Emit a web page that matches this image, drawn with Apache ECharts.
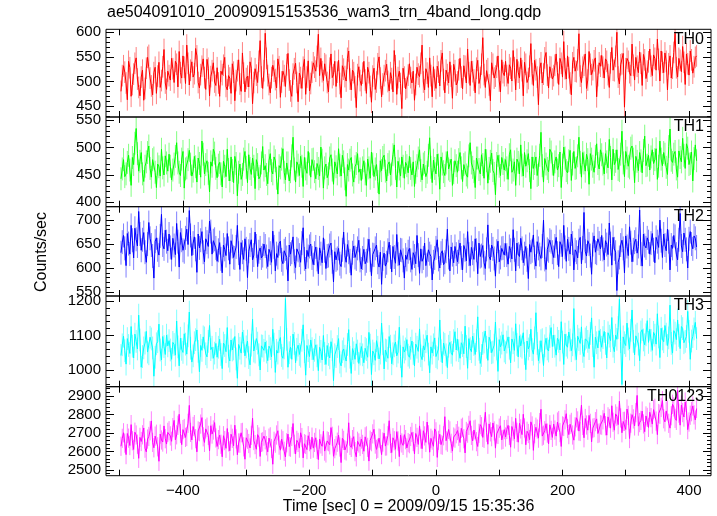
<!DOCTYPE html>
<html><head><meta charset="utf-8">
<script src="https://cdn.jsdelivr.net/npm/echarts@6/dist/echarts.min.js"></script>
<style>html,body{margin:0;padding:0;background:#fff}#c{width:717px;height:516px}</style>
</head><body><div id="c"></div>
<script>
const chartTitle = 'ae504091010_20090915153536_wam3_trn_4band_long.qdp';
const xTitle = 'Time [sec] 0 = 2009/09/15 15:35:36';
const yTitle = 'Counts/sec';
const bandNames = ['TH0', 'TH1', 'TH2', 'TH3', 'TH0123'];
const bandColors = ['#ff0000', '#00ff00', '#0000ff', '#00ffff', '#ff00ff'];
const errorColors = ['#ff8080', '#80ff80', '#7f7fff', '#80ffff', '#ff80ff'];
const binStart = -498;
const binSize = 2;
// typical 1-sigma error bar half-length per band (counts/sec)
const bandErrors = [22, 21, 25, 33, 52];

const TH0 = [
480,512,532,519,497,463,541,528,470,494,515,537,548,505,488,471,509,523,462,486,527,549,553,507,491,473,518,529,476,511,539,488,502,530,565,497,484,521,
512,503,547,526,498,541,535,489,561,518,507,552,529,496,574,537,493,523,540,509,516,567,552,498,487,514,531,546,508,484,545,527,471,510,522,538,499,492,
528,497,470,521,514,533,549,490,483,512,507,476,536,519,461,502,522,544,495,480,558,517,479,506,511,489,540,527,455,498,526,513,498,541,583,509,486,522,
598,547,512,494,477,508,533,521,504,487,546,530,468,499,521,512,490,534,557,503,481,470,515,526,537,498,459,517,508,486,529,545,474,509,542,481,496,519,
538,529,521,551,596,512,547,520,502,536,533,498,479,527,556,508,514,541,490,519,543,496,467,532,525,510,501,547,562,505,483,523,518,489,447,514,530,502,
492,517,541,503,476,529,518,490,458,511,527,484,499,536,550,507,469,495,512,522,535,500,481,518,506,479,563,532,474,508,521,496,445,527,509,485,488,513,
536,508,497,521,462,494,529,515,510,537,574,499,483,526,517,488,548,512,469,530,503,486,531,519,491,542,558,504,477,523,514,497,540,511,466,535,522,493,
499,524,547,509,485,532,531,497,566,518,492,541,520,503,477,527,543,496,508,535,589,514,488,522,526,493,461,538,535,507,511,529,552,501,479,544,518,512,
541,512,496,534,527,501,563,528,483,545,519,507,548,522,471,539,535,498,506,531,577,516,492,543,524,509,453,526,538,497,515,548,559,513,487,530,529,505,
512,533,556,518,494,547,537,509,581,526,505,552,528,497,473,538,549,521,520,544,597,511,498,529,533,556,486,503,561,535,514,524,542,548,469,512,538,531,
553,529,507,546,541,514,488,538,569,523,522,551,600,509,495,534,536,557,448,526,547,541,518,512,576,533,503,549,531,518,560,537,492,555,544,506,521,540,
566,531,512,554,547,523,586,545,501,562,539,518,558,541,483,536,552,507,527,559,598,528,509,547,543,520,571,539,494,556,536,513,562,544,517,530,549,552];

const TH1 = [
443,461,478,447,452,473,486,459,431,482,469,508,535,489,457,475,491,452,438,466,474,491,503,462,446,478,481,455,427,470,465,448,497,463,450,485,472,457,
488,466,441,459,470,484,509,472,455,449,479,493,426,461,463,478,495,470,448,457,484,465,437,481,471,446,512,488,452,469,476,453,419,474,466,497,490,462,
445,468,473,452,428,475,466,447,497,460,439,483,458,436,484,471,412,455,470,442,451,479,493,464,436,487,462,451,481,466,425,478,469,443,447,472,502,459,
467,451,434,476,489,458,452,483,476,444,415,467,463,479,498,455,441,472,472,439,456,485,519,461,437,474,468,449,484,466,429,482,461,453,493,470,446,478,
479,456,443,471,462,448,501,477,426,463,470,445,452,481,487,459,433,474,465,452,498,468,448,486,474,443,411,469,459,477,482,450,437,465,471,489,455,461,
440,463,476,452,431,479,463,444,492,470,447,461,469,438,415,476,458,482,486,457,439,469,474,450,452,487,505,462,428,475,461,448,483,466,444,473,467,454,
484,462,450,474,429,455,467,481,496,458,441,470,473,447,455,486,518,464,436,477,462,452,488,468,424,483,470,456,449,472,493,461,458,479,431,454,476,467,
455,478,491,463,438,469,472,450,446,485,509,472,464,456,427,481,481,460,452,487,469,444,497,476,435,462,475,490,458,453,414,471,486,466,449,482,471,459,
478,463,442,487,496,455,459,474,431,479,473,452,505,468,448,491,466,476,489,458,425,483,462,471,483,449,451,486,528,467,437,480,470,462,456,497,492,470,
449,474,483,459,467,492,427,468,501,481,458,454,476,495,440,470,493,462,463,485,519,473,446,491,472,457,488,478,433,489,479,466,455,484,507,471,461,496,
487,470,452,489,474,463,515,482,441,497,469,475,496,460,458,488,530,472,447,493,481,466,463,499,503,479,436,484,475,458,491,476,454,495,521,467,468,486,
459,483,496,471,478,498,442,466,512,479,467,491,488,464,451,502,534,477,473,488,493,461,446,494,482,474,517,486,462,507,499,469,471,492,439,480,505,476];

const TH2 = [
632,654,668,641,605,672,651,629,689,658,621,683,660,646,718,671,637,659,674,633,612,650,695,662,648,625,579,656,663,638,627,667,712,648,640,679,655,636,
671,643,618,662,647,628,693,655,602,674,658,637,634,663,681,649,720,668,626,652,665,639,591,671,642,658,676,633,613,661,654,645,698,676,629,657,660,642,
614,637,653,619,590,648,639,626,672,641,608,657,645,622,621,644,689,631,597,653,633,618,661,640,580,635,648,659,617,627,675,646,603,634,642,621,626,650,
646,624,603,639,631,612,677,644,594,630,622,651,656,617,609,636,640,622,573,648,629,633,665,614,601,640,637,627,612,652,684,619,598,637,624,645,650,621,
607,631,644,618,588,642,630,611,663,636,599,625,626,647,652,613,571,634,617,620,641,609,603,638,675,626,612,649,633,615,585,632,646,622,619,641,658,616,
598,621,639,609,615,636,660,617,584,628,627,641,648,612,602,633,566,619,631,604,611,637,654,623,592,645,623,610,670,629,606,638,637,616,579,627,618,634,
641,616,597,632,625,609,668,627,589,640,614,621,652,605,607,638,630,624,575,613,621,642,659,618,600,631,636,607,612,635,681,622,594,644,628,611,645,629,
613,634,652,621,596,647,638,615,676,629,605,643,631,618,661,637,588,652,624,626,647,611,599,639,690,624,617,648,640,620,583,635,656,613,622,641,642,627,
651,627,608,645,637,619,680,638,594,652,629,624,662,641,611,630,645,617,578,649,633,636,669,622,604,655,641,628,620,646,700,618,597,639,636,658,655,633,
622,646,664,631,603,655,648,624,689,643,614,660,640,629,671,652,596,638,633,621,657,664,609,642,716,635,625,657,650,626,587,649,667,633,631,661,652,640,
668,639,617,657,649,628,694,651,606,664,640,633,553,612,622,648,658,641,590,667,645,626,686,653,613,638,654,660,631,645,721,629,604,671,647,642,663,655,
629,652,672,638,611,664,655,643,700,657,622,671,648,636,681,655,596,648,641,668,666,629,617,659,714,646,634,673,659,639,600,661,676,650,640,667,662,644];

const TH3 = [
1042,1073,1098,1056,1017,1091,1071,1048,1126,1069,1035,1104,1083,1061,1159,1087,1008,1039,1064,1078,1112,1052,1047,1095,1090,1064,982,1037,1076,1082,1133,1058,1029,1097,1068,1045,1101,1070,
1085,1058,1031,1080,1074,1043,1142,1067,1012,1092,1060,1051,1105,1075,1046,1099,1168,1063,1023,1041,1079,1088,1116,1054,995,1071,1057,1096,1093,1047,1038,1083,1129,1059,1066,1034,1049,1077,
1037,1066,1089,1045,1004,1078,1071,1053,1123,1040,1026,1087,1058,1061,1097,1032,976,1074,1063,1049,1110,1083,1041,1067,1084,1036,1015,1072,1147,1055,1052,1091,1078,1044,1000,1070,1069,1057,
1081,1052,1027,1069,1062,1038,1118,1075,993,1057,1049,1083,1094,1042,1034,1064,1207,1089,1008,1050,1066,1031,1104,1077,1021,1060,1072,1045,1040,1086,1131,1053,985,1071,1056,1039,1087,1062,
1030,1057,1073,1041,998,1066,1054,1029,1100,1048,1016,1071,1045,1035,1082,1059,969,1044,1039,1068,1091,1023,1012,1053,1061,1040,1026,1074,1117,1037,990,1062,1050,1031,1076,1055,1019,1046,
1068,1044,1021,1063,1059,1037,1109,1072,987,1055,1047,1028,1085,1066,1032,1049,1136,1076,1003,1058,1056,1034,1097,1069,1018,1047,1070,1081,1041,1052,1124,1039,979,1067,1052,1061,1088,1043,
1037,1063,1084,1048,1012,1075,1066,1054,1119,1041,1030,1070,1058,1082,1101,1046,992,1067,1049,1073,1093,1039,1035,1061,1145,1056,1021,1078,1074,1044,1007,1069,1080,1051,1043,1085,1111,1058,
1089,1056,1034,1079,1071,1047,1127,1068,1005,1091,1062,1053,1098,1074,1045,1085,1154,1060,1019,1042,1077,1081,1113,1066,1028,1095,1083,1050,1052,1072,1139,1061,996,1088,1067,1078,1102,1055,
1050,1081,1096,1063,1021,1090,1079,1057,1134,1074,1038,1099,1070,1066,1108,1048,1001,1084,1061,1071,1118,1059,1046,1093,1166,1077,1027,1052,1085,1088,1013,1070,1092,1061,1055,1097,1123,1068,
1101,1069,1043,1092,1083,1058,1140,1081,1016,1104,1072,1066,1110,1087,1056,1073,1178,1061,1030,1098,1088,1077,1125,1054,1039,1090,1095,1083,1062,1106,1151,1071,1008,1095,1079,1064,1114,1086,
1066,1094,1112,1077,1035,1108,1098,1085,1152,1069,1053,1101,1089,1123,1205,1082,958,1096,1079,1071,1136,1090,1061,1115,1174,1083,1044,1099,1104,1075,1027,1110,1117,1087,1073,1102,1143,1080,
1118,1086,1057,1109,1101,1075,1163,1096,1036,1121,1090,1082,1129,1104,1071,1093,1188,1077,1049,1114,1107,1088,1145,1100,1062,1126,1120,1079,1083,1097,1170,1112,1031,1084,1097,1119,1138,1091];

const TH0123 = [
2628,2671,2701,2645,2583,2697,2672,2632,2745,2658,2611,2704,2689,2639,2563,2676,2654,2690,2727,2618,2598,2667,2681,2712,2765,2649,2620,2683,2693,2625,2547,2694,2662,2651,2738,2669,2640,2703,
2712,2684,2655,2729,2768,2663,2690,2741,2801,2697,2637,2718,2724,2676,2681,2752,2849,2703,2662,2735,2745,2669,2598,2711,2707,2748,2783,2679,2649,2722,2731,2687,2603,2739,2694,2716,2756,2673,
2627,2664,2688,2639,2571,2685,2659,2617,2724,2652,2604,2693,2671,2630,2742,2668,2582,2646,2645,2701,2703,2625,2558,2674,2666,2643,2619,2687,2780,2659,2637,2612,2691,2678,2573,2649,2652,2683,
2663,2631,2598,2672,2679,2616,2531,2655,2645,2689,2712,2634,2607,2667,2658,2601,2570,2647,2694,2626,2623,2681,2751,2639,2586,2660,2649,2618,2701,2675,2565,2642,2638,2610,2685,2653,2612,2677,
2618,2649,2674,2611,2556,2667,2641,2628,2709,2602,2592,2657,2653,2636,2729,2682,2574,2615,2631,2650,2688,2624,2540,2671,2660,2608,2603,2645,2755,2633,2622,2664,2680,2599,2571,2655,2646,2627,
2667,2638,2601,2679,2684,2622,2548,2661,2653,2695,2720,2640,2611,2617,2672,2668,2583,2651,2699,2629,2630,2685,2766,2643,2594,2674,2658,2612,2707,2657,2572,2689,2646,2633,2691,2664,2619,2648,
2642,2681,2703,2654,2587,2697,2676,2638,2738,2667,2615,2712,2684,2649,2759,2690,2596,2671,2661,2628,2722,2706,2568,2660,2693,2637,2634,2685,2788,2658,2650,2719,2711,2644,2602,2678,2672,2696,
2713,2682,2648,2725,2731,2669,2592,2708,2699,2741,2766,2687,2657,2716,2720,2653,2627,2698,2745,2734,2676,2671,2812,2704,2639,2749,2706,2680,2754,2711,2618,2695,2692,2726,2739,2662,2665,2718,
2678,2719,2741,2687,2623,2735,2710,2668,2779,2703,2650,2752,2722,2691,2801,2727,2636,2709,2697,2664,2760,2738,2606,2696,2731,2721,2672,2756,2828,2683,2688,2712,2750,2699,2641,2744,2714,2676,
2748,2716,2683,2759,2767,2702,2627,2738,2735,2771,2804,2724,2691,2747,2757,2689,2661,2733,2782,2765,2710,2708,2851,2741,2674,2778,2743,2715,2795,2752,2652,2726,2729,2761,2776,2697,2700,2744,
2742,2771,2806,2739,2688,2787,2778,2726,2847,2758,2715,2803,2790,2745,2872,2781,2701,2762,2763,2719,2829,2795,2670,2753,2799,2776,2738,2810,2903,2737,2756,2768,2818,2749,2707,2792,2784,2730,
2812,2783,2748,2826,2833,2764,2691,2805,2801,2838,2875,2777,2760,2819,2824,2752,2726,2793,2855,2841,2779,2768,2931,2807,2742,2851,2810,2786,2867,2823,2718,2759,2796,2815,2846,2798,2770,2832];

const bandValues = [TH0, TH1, TH2, TH3, TH0123];
const yMin = [428, 392, 541.6, 951.6, 2469];
const yMax = [606, 556, 728, 1214.5, 2950];
const yLabelTicks = [[450, 500, 550, 600], [400, 450, 500, 550], [550, 600, 650, 700], [1000, 1100, 1200], [2500, 2600, 2700, 2800, 2900]];
const yMinorStep = [10, 10, 10, 20, 20];
const xMin = -521.7, xMax = 434.8;
const xLabelTicks = [-400, -200, 0, 200, 400];
const xTicks = [-500, -400, -300, -200, -100, 0, 100, 200, 300, 400];
const panelTop = [29.3, 117, 206.7, 296, 386.7];
const panelBottom = [117, 206.7, 296, 386.7, 475.7];

const FONT = '"Liberation Sans", Arial, Helvetica, sans-serif';
const chart = echarts.init(document.getElementById('c'), null, {renderer: 'canvas'});

function minorTicks(g) {
  const out = [];
  const s = yMinorStep[g];
  for (let v = Math.ceil(yMin[g] / s) * s; v <= yMax[g]; v += s) {
    if (!yLabelTicks[g].includes(v)) out.push(v);
  }
  return out;
}

const grids = [], xAxes = [], yAxes = [], series = [], titles = [];
titles.push({text: chartTitle, left: 107, top: 5, padding: 0,
  textStyle: {fontFamily: FONT, fontSize: 16, fontWeight: 'normal', color: '#000'}});
for (let g = 0; g < 5; g++) {
  grids.push({left: 106, right: 6, top: panelTop[g], height: panelBottom[g] - panelTop[g],
    show: true, borderColor: '#000', borderWidth: 1, backgroundColor: 'transparent', z: 5});
  const last = g === 4;
  const noLine = {show: false, onZero: false};
  xAxes.push({type: 'value', gridIndex: g, min: xMin, max: xMax, position: 'bottom',
    axisLine: noLine, splitLine: {show: false},
    axisTick: {show: true, inside: true, length: 6, customValues: xTicks, lineStyle: {color: '#000'}},
    axisLabel: {show: last, customValues: xLabelTicks, margin: 8, fontFamily: FONT, fontSize: 15, color: '#000',
      formatter: v => (v < 0 ? '\u2212' + Math.abs(v) : String(v))}});
  xAxes.push({type: 'value', gridIndex: g, min: xMin, max: xMax, position: 'top',
    axisLine: noLine, splitLine: {show: false},
    axisTick: {show: true, inside: true, length: 6, customValues: xTicks, lineStyle: {color: '#000'}},
    axisLabel: {show: false}});
  const common = {type: 'value', gridIndex: g, min: yMin[g], max: yMax[g], axisLine: noLine, splitLine: {show: false}};
  yAxes.push(Object.assign({}, common, {position: 'left',
    axisTick: {show: true, inside: true, length: 8, customValues: yLabelTicks[g], lineStyle: {color: '#000'}},
    axisLabel: {show: true, customValues: yLabelTicks[g], margin: 5, fontFamily: FONT, fontSize: 15, color: '#000',
      formatter: v => String(v)}}));
  yAxes.push(Object.assign({}, common, {position: 'left',
    axisTick: {show: true, inside: true, length: 4, customValues: minorTicks(g), lineStyle: {color: '#000'}},
    axisLabel: {show: false}}));
  yAxes.push(Object.assign({}, common, {position: 'right',
    axisTick: {show: true, inside: true, length: 8, customValues: yLabelTicks[g], lineStyle: {color: '#000'}},
    axisLabel: {show: false}}));
  yAxes.push(Object.assign({}, common, {position: 'right',
    axisTick: {show: true, inside: true, length: 4, customValues: minorTicks(g), lineStyle: {color: '#000'}},
    axisLabel: {show: false}}));
  const err = bandErrors[g];
  const data = bandValues[g].map((v, i) => [binStart + i * binSize, v, err]);
  const ecol = errorColors[g];
  series.push({type: 'custom', xAxisIndex: 2 * g, yAxisIndex: 4 * g, data: data, clip: true, silent: true,
    animation: false, encode: {x: 0, y: 1}, z: 1,
    renderItem: (params, api) => {
      const x = api.value(0), v = api.value(1), e = api.value(2);
      const p1 = api.coord([x, v - e]);
      const p2 = api.coord([x, v + e]);
      return {type: 'line', shape: {x1: p1[0], y1: p1[1], x2: p2[0], y2: p2[1]},
        style: {stroke: ecol, lineWidth: 1}};
    }});
  series.push({type: 'line', xAxisIndex: 2 * g, yAxisIndex: 4 * g, data: data.map(d => [d[0], d[1]]),
    showSymbol: false, symbol: 'none', silent: true, animation: false,
    lineStyle: {color: bandColors[g], width: 1}, z: 2});
  titles.push({text: bandNames[g], right: 13, top: panelTop[g] + 2, padding: 0,
    textStyle: {fontFamily: FONT, fontSize: 16, fontWeight: 'normal', color: '#000'}});
}

chart.setOption({
  animation: false,
  backgroundColor: '#fff',
  title: titles,
  grid: grids,
  xAxis: xAxes,
  yAxis: yAxes,
  series: series,
  graphic: [
    {type: 'text', x: 408.5, y: 507, style: {text: xTitle, fontFamily: FONT, fontSize: 16, fill: '#000', align: 'center', verticalAlign: 'middle'}},
    {type: 'text', x: 42, y: 252, rotation: Math.PI / 2, style: {text: yTitle, fontFamily: FONT, fontSize: 16, fill: '#000', align: 'center', verticalAlign: 'middle'}}
  ]
});
</script>
</body></html>
